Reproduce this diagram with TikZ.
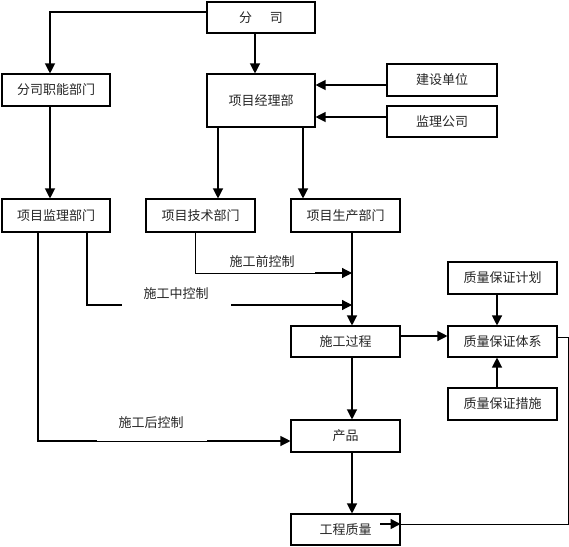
\documentclass[tikz,border=0pt]{standalone}
\usepackage{fontspec}
\newfontfamily\cjk{Noto Sans CJK SC}
\usetikzlibrary{arrows.meta}
\tikzset{
  box/.style={draw, line width=1.1pt, fill=white, inner sep=0pt, font=\cjk\fontsize{13}{15}\selectfont, text=black!85},
  conn/.style={line width=1.2pt},
  arr/.style={line width=1.2pt, -{Triangle[length=10pt,width=10pt]}},
  thin/.style={line width=0.6pt},
  lbl/.style={font=\cjk\fontsize{13}{15}\selectfont, text=black!85, inner sep=0pt}
}
\begin{document}
\begin{tikzpicture}[x=1pt,y=-1pt]
\useasboundingbox[fill=white] (0,0) rectangle (569,546);
% boxes
\node[box, minimum width=108, minimum height=31] (fs) at (261,17.5) {分\hspace{18pt}司};
\node[box, minimum width=108, minimum height=32] (zn) at (56,90) {分司职能部门};
\node[box, minimum width=108, minimum height=53] (jl) at (261,100.5) {项目经理部};
\node[box, minimum width=110, minimum height=32] (js) at (442,80) {建设单位};
\node[box, minimum width=110, minimum height=31] (jlgs) at (442,121.5) {监理公司};
\node[box, minimum width=108, minimum height=33] (jlbm) at (56,215.5) {项目监理部门};
\node[box, minimum width=109, minimum height=33] (jsbm) at (200.5,215.5) {项目技术部门};
\node[box, minimum width=109, minimum height=33] (scbm) at (345.5,215.5) {项目生产部门};
\node[box, minimum width=109, minimum height=32] (jh) at (502.5,278) {质量保证计划};
\node[box, minimum width=109, minimum height=31] (gc) at (345.5,341.5) {施工过程};
\node[box, minimum width=109, minimum height=31] (tx) at (502.5,341.5) {质量保证体系};
\node[box, minimum width=109, minimum height=32] (cs) at (502.5,404) {质量保证措施};
\node[box, minimum width=109, minimum height=32] (cp) at (345.5,436) {产品};
\node[box, minimum width=109, minimum height=31] (zl) at (345.5,529.5) {工程质量};
% labels
\node[lbl] (l1) at (262,262) {施工前控制};
\node[lbl] (l2) at (176,294) {施工中控制};
\node[lbl] (l3) at (151,423) {施工后控制};
% coordinates
\coordinate (m1) at (352,273);
\coordinate (m2) at (352,305);
\coordinate (g2a) at (122,305);
\coordinate (g2b) at (231,305);
\coordinate (g1) at (315,273);
\coordinate (g3a) at (97,441);
\coordinate (g3b) at (207,441);
\coordinate (rc1) at (568,337);
\coordinate (rc2) at (568,524);
% connectors
\draw[arr] (fs.west |- 0,12) -| (50,0 |- zn.north);
\draw[arr] (255,0 |- fs.south) -- (255,0 |- jl.north);
\draw[arr] (js.west |- 0,85) -- (jl.east |- 0,85);
\draw[arr] (jlgs.west |- 0,117) -- (jl.east |- 0,117);
\draw[arr] (50,0 |- zn.south) -- (50,0 |- jlbm.north);
\draw[arr] (218,0 |- jl.south) -- (218,0 |- jsbm.north);
\draw[arr] (303,0 |- jl.south) -- (303,0 |- scbm.north);
% pre-construction control
\draw[thin] (195,0 |- jsbm.south) |- (g1);
\draw[arr] (g1) -- (m1);
\draw[arr] (352,0 |- scbm.south) -- (352,0 |- gc.north);
% during construction control
\draw[conn] (87,0 |- jlbm.south) |- (g2a);
\draw[arr] (g2b) -- (m2);
% after construction control
\draw[conn] (38,0 |- jlbm.south) |- (g3a);
\draw[thin] (g3a) -- (g3b);
\draw[arr] (g3b) -- (cp.west |- 0,441);
\draw[arr] (352,0 |- gc.south) -- (352,0 |- cp.north);
\draw[arr] (352,0 |- cp.south) -- (352,0 |- zl.north);
\draw[arr] (gc.east |- 0,336) -- (tx.west |- 0,336);
\draw[arr] (497,0 |- jh.south) -- (497,0 |- tx.north);
\draw[arr] (497,0 |- cs.north) -- (497,0 |- tx.south);
\draw[thin] (tx.east |- rc1) -- (rc1) -- (rc2) -- (380,524);
\draw[arr] (380,524) -- (zl.east |- rc2);
\end{tikzpicture}
\end{document}
